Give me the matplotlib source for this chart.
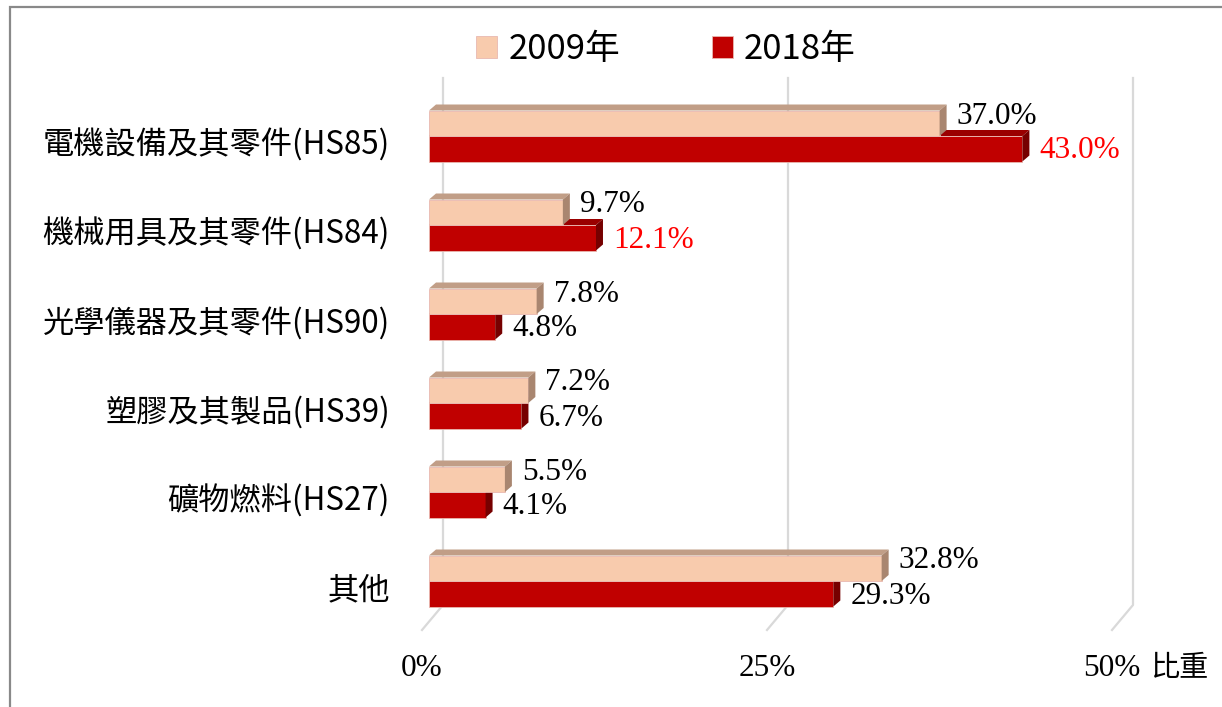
import numpy as np
import matplotlib
matplotlib.use("Agg")
import matplotlib.pyplot as plt
from matplotlib.patches import Polygon, Rectangle

plt.rcParams['font.family'] = ['Noto Sans CJK TC', 'DejaVu Sans']

categories = ['電機設備及其零件(HS85)', '機械用具及其零件(HS84)', '光學儀器及其零件(HS90)',
              '塑膠及其製品(HS39)', '礦物燃料(HS27)', '其他']
share_2009 = [37.0, 9.7, 7.8, 7.2, 5.5, 32.8]
share_2018 = [43.0, 12.1, 4.8, 6.7, 4.1, 29.3]
label_color_2018 = ['red', 'red', 'black', 'black', 'black', 'black']
ticks = [0, 25, 50]
tick_labels = ['0%', '25%', '50%']
series_names = ['2009年', '2018年']

W, H = 1222, 707
PX = 13.8          # pixels per percent
UNIT = 89.0        # pixels per category
X0, Y0 = 429, 136  # pixel of 0% / first category centre

fig = plt.figure(figsize=(W / 100, H / 100), dpi=100)
ax_left, ax_w = X0, 50 * PX
ax_top, ax_bot = 78, 630
ax = fig.add_axes([ax_left / W, 1 - ax_bot / H, ax_w / W, (ax_bot - ax_top) / H])
ax.set_xlim(0, 50)
ax.set_ylim((ax_bot - Y0) / UNIT, (ax_top - Y0) / UNIT)
ax.axis('off')

# 3D depth, in data units
dx = 7 / PX
dy = 6 / UNIT
back_dx = 14 / PX
front_dx = -7 / PX
y_back = (605 - Y0) / UNIT
y_front = (ax_bot - Y0) / UNIT
y_top = (ax_top - Y0) / UNIT

grid_c = '#D9D9D9'
for t in ticks:
    ax.plot([t + back_dx, t + back_dx, t + front_dx], [y_top, y_back, y_front],
            color=grid_c, lw=1.6, clip_on=False, zorder=0)

bh = 25.5 / UNIT
y = np.arange(len(categories))

# 2009 sits in front of the 2018 top face
styles = [
    (share_2009, -bh / 2, '#F8CBAD', '#C19E87', '#A98670', 4),
    (share_2018, bh / 2, '#C00000', '#9A0000', '#760000', 2),
]
for k, (vals, off, c_front, c_top, c_side, z) in enumerate(styles):
    ax.barh(y + off, vals, height=bh, color=c_front, edgecolor='#E9B8B0',
            linewidth=0.6, zorder=z, label=series_names[k])
    for yi, v in zip(y + off, vals):
        yt, yb = yi - bh / 2, yi + bh / 2
        ax.add_patch(Polygon([(0, yt), (v, yt), (v + dx, yt - dy), (dx, yt - dy)],
                             closed=True, facecolor=c_top, edgecolor='none',
                             zorder=z - 0.5, clip_on=False))
        ax.add_patch(Polygon([(v, yt), (v, yb), (v + dx, yb - dy), (v + dx, yt - dy)],
                             closed=True, facecolor=c_side, edgecolor='none',
                             zorder=z, clip_on=False))

lab_dx = 17 / PX
for i in range(len(categories)):
    ax.text(share_2009[i] + lab_dx, i - 20 / UNIT, f'{share_2009[i]:.1f}%',
            family='Liberation Serif', fontsize=22.5, va='center', ha='left',
            color='black', clip_on=False, zorder=6)
    ax.text(share_2018[i] + lab_dx, i + 15 / UNIT, f'{share_2018[i]:.1f}%',
            family='Liberation Serif', fontsize=22.5, va='center', ha='left',
            color=label_color_2018[i], clip_on=False, zorder=6)
    ax.text((390 - X0) / PX, i + 9 / UNIT, categories[i], fontsize=22.5,
            ha='right', va='center', color='black', clip_on=False)

y_lab = (668 - Y0) / UNIT
for t, lab in zip(ticks, tick_labels):
    ax.text(t + front_dx, y_lab, lab, family='Liberation Serif', fontsize=22.5,
            ha='center', va='center', clip_on=False)
ax.text((1150 - X0) / PX, y_lab, '比重', fontsize=21, ha='left', va='center',
        clip_on=False)

fig.legend(loc='center', bbox_to_anchor=(666 / W, 1 - 50 / H), ncol=2,
           frameon=False, fontsize=25, handlelength=0.6, handleheight=0.6,
           handletextpad=0.32, columnspacing=2.65, borderpad=0)

fig.patches.append(Rectangle((10 / W, -0.05), 1.0, 1.05 - 7 / H,
                             transform=fig.transFigure, fill=False,
                             edgecolor='#898989', lw=1.6))

fig.savefig('out.png', dpi=100)
